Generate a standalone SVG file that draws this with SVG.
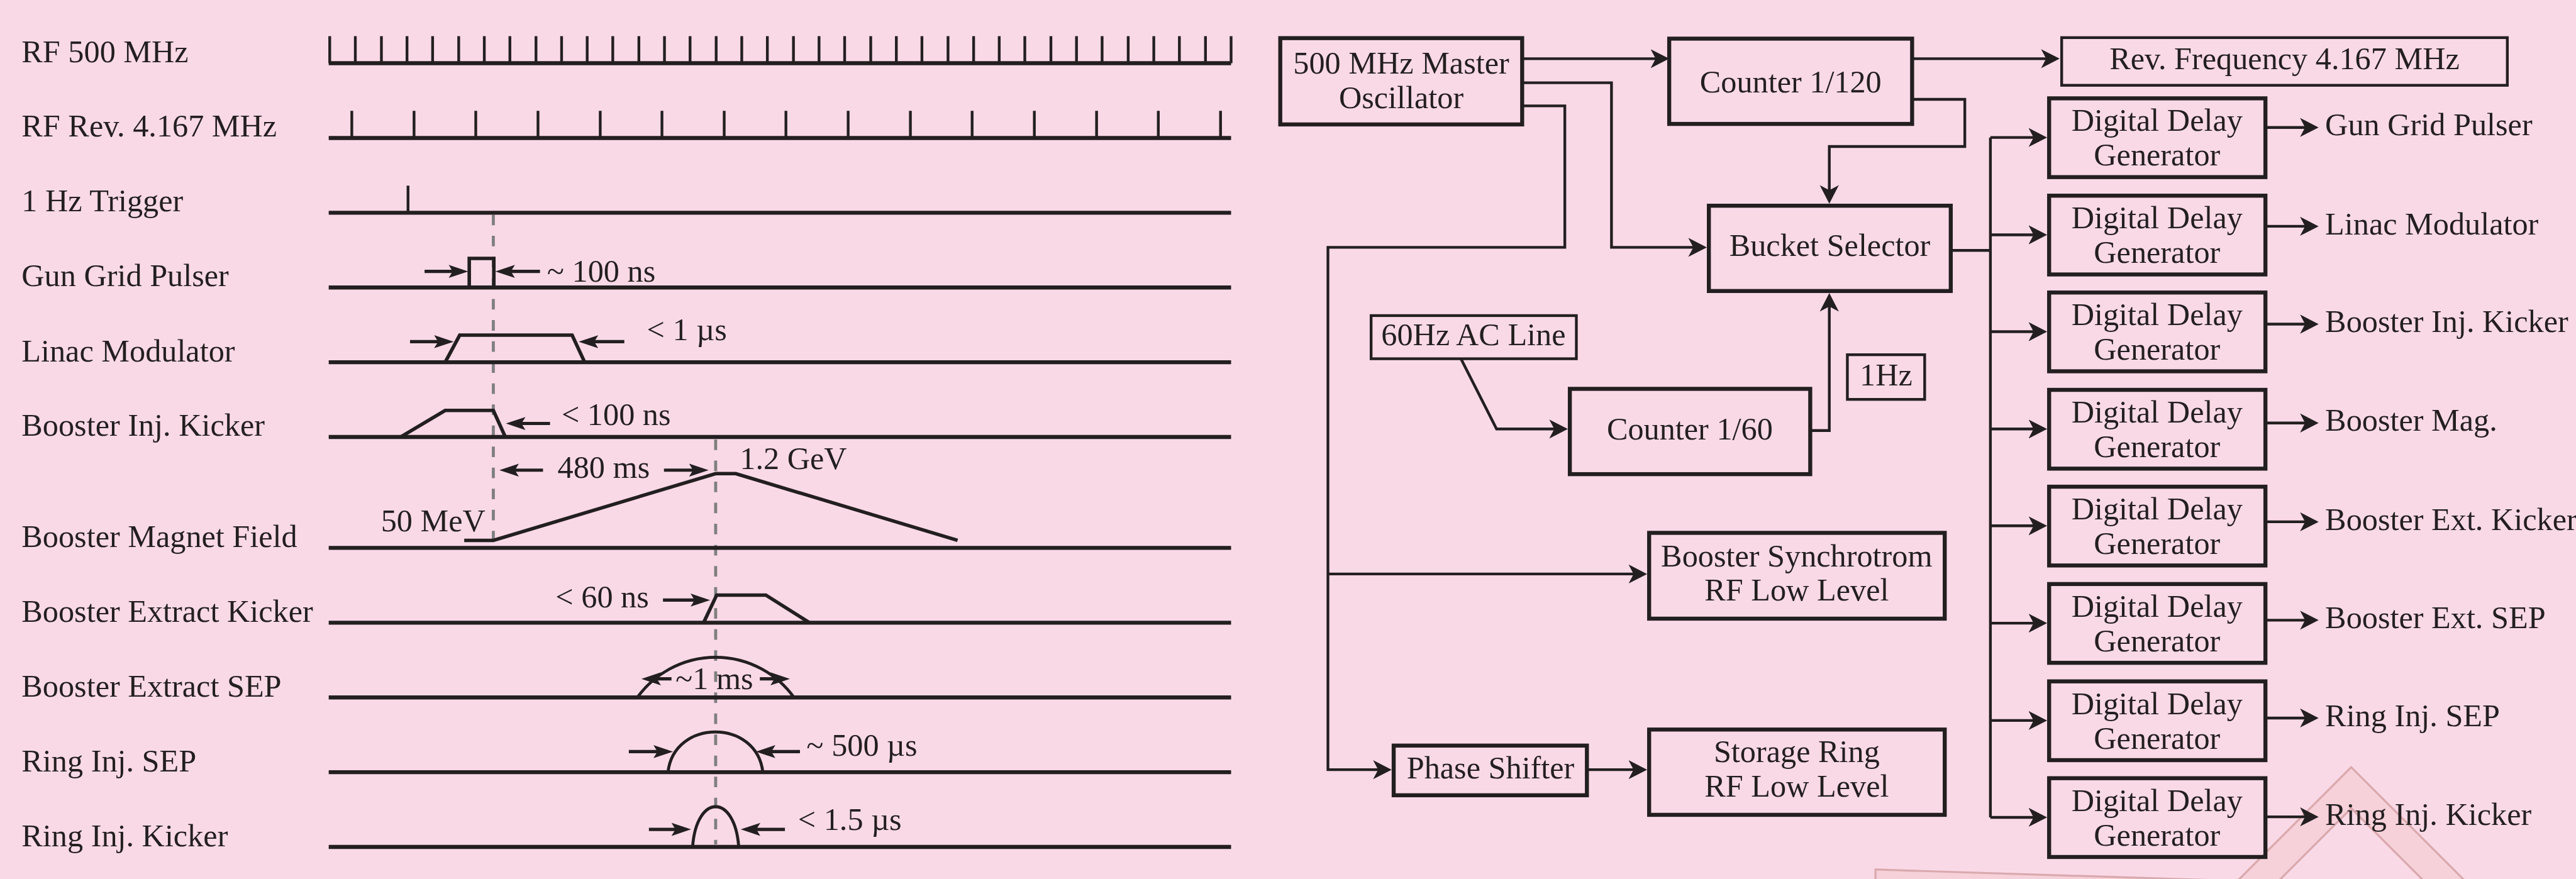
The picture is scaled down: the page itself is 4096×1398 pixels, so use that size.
<svg xmlns="http://www.w3.org/2000/svg" width="4096" height="1398" viewBox="0 0 4096 1398">
<defs>
<style>
.t{font-family:"Liberation Serif","Times New Roman",serif;font-size:63px;fill:#231F20}
.m{text-anchor:middle}
.base{stroke:#231F20;stroke-width:8;fill:none}
.tick{stroke:#231F20;stroke-width:5.5;fill:none}
.sig{stroke:#231F20;stroke-width:7;fill:none;stroke-linejoin:miter}
.arc{stroke:#231F20;stroke-width:6;fill:none}
.dash{stroke:#7F7F7F;stroke-width:6;stroke-dasharray:21 21;fill:none}
.box{fill:none;stroke:#231F20;stroke-width:8}
.box2{fill:none;stroke:#231F20;stroke-width:5.5}
.c{fill:none;stroke:#231F20;stroke-width:5.5}
.ca{fill:none;stroke:#231F20;stroke-width:5.5;marker-end:url(#ba)}
.ta{fill:none;stroke:#231F20;stroke-width:6.5;marker-end:url(#sa)}
.wm{fill:#F6D1DA;stroke:#D9A9AD;stroke-width:4}
</style>
<marker id="ba" markerUnits="userSpaceOnUse" viewBox="0 -20 38 40" markerWidth="38" markerHeight="40" refX="30" refY="0" orient="auto"><path d="M0,-19 L37,0 L0,19 L10,0 Z" fill="#231F20"/></marker>
<marker id="sa" markerUnits="userSpaceOnUse" viewBox="0 -14 40 28" markerWidth="40" markerHeight="28" refX="28" refY="0" orient="auto"><path d="M0,-13 L39,0 L0,13 L8,0 Z" fill="#231F20"/></marker>
</defs>
<rect width="4096" height="1398" fill="#FAD9E7"/>
<g transform="scale(0.798)">
<g id="watermark">
<polygon class="wm" points="3737,1733 4470,1756 4470,1800 3737,1800"/>
<polygon class="wm" points="4685,1529 4414,1800 4496,1800 4685,1611 4874,1800 4956,1800"/>
</g>

<g id="timing-labels">
<text class="t" x="43" y="124">RF 500 MHz</text>
<text class="t" x="43" y="272">RF Rev. 4.167 MHz</text>
<text class="t" x="43" y="421">1 Hz Trigger</text>
<text class="t" x="43" y="570">Gun Grid Pulser</text>
<text class="t" x="43" y="720">Linac Modulator</text>
<text class="t" x="43" y="868">Booster Inj. Kicker</text>
<text class="t" x="43" y="1090">Booster Magnet Field</text>
<text class="t" x="43" y="1239">Booster Extract Kicker</text>
<text class="t" x="43" y="1388">Booster Extract SEP</text>
<text class="t" x="43" y="1537">Ring Inj. SEP</text>
<text class="t" x="43" y="1687">Ring Inj. Kicker</text>
</g>
<g id="timing-dashed">
<path class="dash" d="M983,428 V1084"/>
<path class="dash" d="M1426,876 V1683"/>
</g>
<g id="sig-rf500">
<path class="base" d="M655,126 H2453"/>
<path class="tick" d="M657,72V126M708,72V126M760,72V126M811,72V126M862,72V126M914,72V126M965,72V126M1016,72V126M1068,72V126M1119,72V126M1170,72V126M1221,72V126M1273,72V126M1324,72V126M1375,72V126M1427,72V126M1478,72V126M1529,72V126M1581,72V126M1632,72V126M1683,72V126M1735,72V126M1786,72V126M1837,72V126M1889,72V126M1940,72V126M1991,72V126M2042,72V126M2094,72V126M2145,72V126M2196,72V126M2248,72V126M2299,72V126M2350,72V126M2402,72V126M2453,72V126"/>
</g>
<g id="sig-rfrev">
<path class="base" d="M655,275 H2453"/>
<path class="tick" d="M701,221V275M825,221V275M948,221V275M1072,221V275M1196,221V275M1319,221V275M1443,221V275M1566,221V275M1690,221V275M1814,221V275M1937,221V275M2061,221V275M2185,221V275M2308,221V275M2432,221V275"/>
</g>
<g id="sig-trigger">
<path class="base" d="M655,424 H2453"/>
<path class="tick" d="M813,370 V424"/>
</g>
<g id="sig-gun">
<path class="base" d="M655,573 H2453"/>
<path class="sig" d="M935,573 V515 H984 V573"/>
<path class="ta" d="M846,541 H922"/>
<path class="ta" d="M1076,541 H998"/>
<text class="t" x="1090" y="561">~ 100 ns</text>
</g>
<g id="sig-linac">
<path class="base" d="M655,722 H2453"/>
<path class="sig" d="M887,722 L916,668 H1140 L1165,722"/>
<path class="ta" d="M817,681 H893"/>
<path class="ta" d="M1244,681 H1164"/>
<text class="t" x="1289" y="678">&lt; 1 µs</text>
</g>
<g id="sig-binj">
<path class="base" d="M655,871 H2453"/>
<path class="sig" d="M798,871 L887,818 H983 L1007,871"/>
<path class="ta" d="M1096,844 H1019"/>
<text class="t" x="1119" y="847">&lt; 100 ns</text>
</g>
<g id="sig-bmag">
<path class="base" d="M655,1092 H2453"/>
<path class="sig" d="M925,1077 H983 L1426,944 H1466 L1908,1077"/>
<path class="ta" d="M1082,937 H1006"/>
<path class="ta" d="M1323,937 H1401"/>
<text class="t" x="1111" y="952">480 ms</text>
<text class="t" x="1474" y="935">1.2 GeV</text>
<text class="t" x="759" y="1059">50 MeV</text>
</g>
<g id="sig-bextk">
<path class="base" d="M655,1241 H2453"/>
<path class="sig" d="M1402,1241 L1428,1186 H1526 L1613,1241"/>
<path class="ta" d="M1321,1196 H1404"/>
<text class="t" x="1107" y="1211">&lt; 60 ns</text>
</g>
<g id="sig-bexts">
<path class="base" d="M655,1390 H2453"/>
<path class="arc" d="M1270,1390 A192,192 0 0 1 1582,1390"/>
<path class="ta" d="M1338,1353 H1289"/>
<path class="ta" d="M1514,1353 H1563"/>
<text class="t" x="1346" y="1374">~1 ms</text>
</g>
<g id="sig-rsep">
<path class="base" d="M655,1539 H2453"/>
<path class="arc" d="M1331,1539 C1343,1432 1508,1432 1520,1539"/>
<path class="ta" d="M1253,1498 H1330"/>
<path class="ta" d="M1594,1498 H1517"/>
<text class="t" x="1607" y="1506">~ 500 µs</text>
</g>
<g id="sig-rkick">
<path class="base" d="M655,1688 H2453"/>
<path class="arc" d="M1380,1688 C1388,1581 1464,1581 1472,1688"/>
<path class="ta" d="M1293,1653 H1366"/>
<path class="ta" d="M1564,1653 H1487"/>
<text class="t" x="1590" y="1654">&lt; 1.5 µs</text>
</g>

<g id="connectors">
<path class="ca" d="M3033,117 H3319"/>
<path class="ca" d="M3033,165 H3211 V493 H3394"/>
<path class="ca" d="M3033,211 H3118 V493 H2646 V1534 H2766"/>
<path class="ca" d="M2646,1144 H3275"/>
<path class="ca" d="M3810,117 H4097"/>
<path class="ca" d="M3810,198 H3915 V292 H3645 V399"/>
<path class="ca" d="M2911,715 L2982,855 H3117"/>
<path class="ca" d="M3607,858 H3645 V591"/>
<path class="c" d="M3887,499 H3966 M3966,274 V1629"/>
<path class="ca" d="M3966,274 H4072"/>
<path class="ca" d="M3966,468 H4072"/>
<path class="ca" d="M3966,661 H4072"/>
<path class="ca" d="M3966,855 H4072"/>
<path class="ca" d="M3966,1048 H4072"/>
<path class="ca" d="M3966,1242 H4072"/>
<path class="ca" d="M3966,1436 H4072"/>
<path class="ca" d="M3966,1629 H4072"/>
<path class="ca" d="M3162,1534 H3275"/>
<path class="ca" d="M4514,254 H4613"/>
<path class="ca" d="M4514,451 H4613"/>
<path class="ca" d="M4514,646 H4613"/>
<path class="ca" d="M4514,843 H4613"/>
<path class="ca" d="M4514,1040 H4613"/>
<path class="ca" d="M4514,1236 H4613"/>
<path class="ca" d="M4514,1431 H4613"/>
<path class="ca" d="M4514,1628 H4613"/>
</g>

<g id="osc"><rect class="box" x="2551" y="76" width="482" height="172"/><text class="t m" x="2792" y="147">500 MHz Master</text><text class="t m" x="2792" y="216">Oscillator</text></g>
<g id="cnt120"><rect class="box" x="3326" y="77" width="484" height="170"/><text class="t m" x="3568" y="184">Counter 1/120</text></g>
<g id="revfreq"><rect class="box2" x="4108" y="75" width="888" height="95"/><text class="t m" x="4552" y="138">Rev. Frequency 4.167 MHz</text></g>
<g id="bucket"><rect class="box" x="3405" y="410" width="482" height="170"/><text class="t m" x="3646" y="510">Bucket Selector</text></g>
<g id="ac60"><rect class="box2" x="2732" y="629" width="409" height="86"/><text class="t m" x="2936" y="688">60Hz AC Line</text></g>
<g id="cnt60"><rect class="box" x="3128" y="775" width="479" height="170"/><text class="t m" x="3367" y="876">Counter 1/60</text></g>
<g id="hz1"><rect class="box2" x="3681" y="707" width="154" height="89"/><text class="t m" x="3758" y="768">1Hz</text></g>
<g id="bsrf"><rect class="box" x="3286" y="1062" width="589" height="171"/><text class="t m" x="3580" y="1129">Booster Synchrotrom</text><text class="t m" x="3580" y="1197">RF Low Level</text></g>
<g id="srrf"><rect class="box" x="3286" y="1454" width="589" height="170"/><text class="t m" x="3580" y="1519">Storage Ring</text><text class="t m" x="3580" y="1588">RF Low Level</text></g>
<g id="phase"><rect class="box" x="2777" y="1486" width="385" height="99"/><text class="t m" x="2970" y="1551">Phase Shifter</text></g>

<g id="ddg1"><rect class="box" x="4083" y="196" width="431" height="157"/><text class="t m" x="4298" y="261">Digital Delay</text><text class="t m" x="4298" y="330">Generator</text><text class="t" x="4633" y="270">Gun Grid Pulser</text></g>
<g id="ddg2"><rect class="box" x="4083" y="390" width="431" height="157"/><text class="t m" x="4298" y="455">Digital Delay</text><text class="t m" x="4298" y="524">Generator</text><text class="t" x="4633" y="467">Linac Modulator</text></g>
<g id="ddg3"><rect class="box" x="4083" y="583" width="431" height="157"/><text class="t m" x="4298" y="648">Digital Delay</text><text class="t m" x="4298" y="717">Generator</text><text class="t" x="4633" y="662">Booster Inj. Kicker</text></g>
<g id="ddg4"><rect class="box" x="4083" y="777" width="431" height="157"/><text class="t m" x="4298" y="842">Digital Delay</text><text class="t m" x="4298" y="911">Generator</text><text class="t" x="4633" y="859">Booster Mag.</text></g>
<g id="ddg5"><rect class="box" x="4083" y="970" width="431" height="157"/><text class="t m" x="4298" y="1035">Digital Delay</text><text class="t m" x="4298" y="1104">Generator</text><text class="t" x="4633" y="1056">Booster Ext. Kicker</text></g>
<g id="ddg6"><rect class="box" x="4083" y="1164" width="431" height="157"/><text class="t m" x="4298" y="1229">Digital Delay</text><text class="t m" x="4298" y="1298">Generator</text><text class="t" x="4633" y="1252">Booster Ext. SEP</text></g>
<g id="ddg7"><rect class="box" x="4083" y="1358" width="431" height="157"/><text class="t m" x="4298" y="1423">Digital Delay</text><text class="t m" x="4298" y="1492">Generator</text><text class="t" x="4633" y="1447">Ring Inj. SEP</text></g>
<g id="ddg8"><rect class="box" x="4083" y="1551" width="431" height="157"/><text class="t m" x="4298" y="1616">Digital Delay</text><text class="t m" x="4298" y="1685">Generator</text><text class="t" x="4633" y="1644">Ring Inj. Kicker</text></g>
</g>
</svg>
